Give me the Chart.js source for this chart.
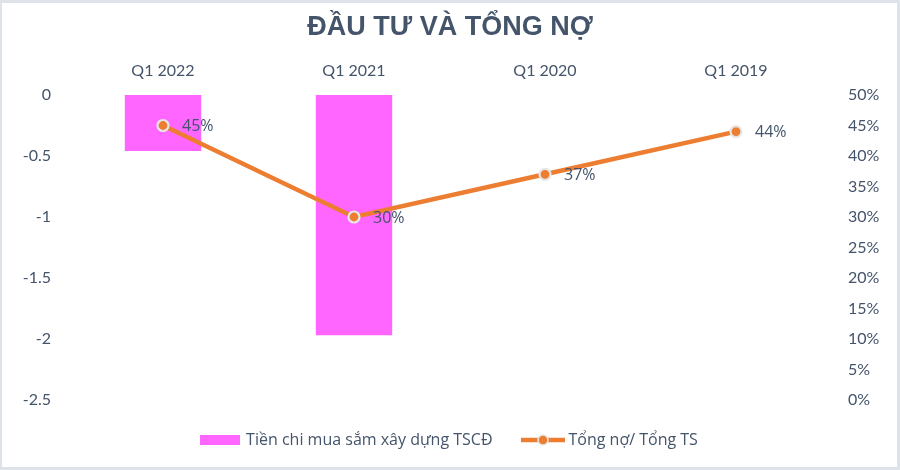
<!DOCTYPE html>
<html lang="vi">
<head>
<meta charset="utf-8">
<title>Đầu tư và tổng nợ</title>
<script src="https://cdn.jsdelivr.net/npm/chart.js@4.4.1/dist/chart.umd.min.js"></script>
<style>
  html, body { margin: 0; padding: 0; background: #ffffff; }
  #wrap { position: relative; width: 900px; height: 470px; }
</style>
</head>
<body>
<div id="wrap"><canvas id="chart"></canvas></div>
<script>
// Quarterly data
const quarters = ['Q1 2022', 'Q1 2021', 'Q1 2020', 'Q1 2019'];
const capexValues = [-0.46, -1.97, 0, 0];          // Tiền chi mua sắm xây dựng TSCĐ
const debtRatioPct = [45, 30, 37, 44];              // Tổng nợ / Tổng TS, in %
const leftTickValues = [0, -0.5, -1, -1.5, -2, -2.5];
const rightTickValues = [0, 5, 10, 15, 20, 25, 30, 35, 40, 45, 50];

const TEXT = '#44546A';
const PINK = '#FF66FF';
const ORANGE = '#ED7D31';
const MARKER_RING = '#E6E6E6';

// Legend swatches
function barSwatch() {
  const c = document.createElement('canvas');
  c.width = 40; c.height = 10;
  const g = c.getContext('2d');
  g.fillStyle = PINK;
  g.fillRect(0, 0, 40, 10);
  return c;
}
function lineSwatch() {
  const c = document.createElement('canvas');
  c.width = 45; c.height = 14;
  const g = c.getContext('2d');
  g.strokeStyle = ORANGE;
  g.lineWidth = 4.5;
  g.beginPath(); g.moveTo(1, 7); g.lineTo(45, 7); g.stroke();
  g.beginPath(); g.arc(23, 7, 5, 0, Math.PI * 2);
  g.fillStyle = ORANGE; g.fill();
  g.lineWidth = 1.5; g.strokeStyle = MARKER_RING; g.stroke();
  return c;
}

// White page with a light frame
const framePlugin = {
  id: 'frame',
  beforeDraw(chart) {
    const { ctx, width, height } = chart;
    ctx.save();
    ctx.fillStyle = '#ffffff';
    ctx.fillRect(0, 0, width, height);
    ctx.restore();
  },
  afterDraw(chart) {
    const { ctx, width, height } = chart;
    ctx.save();
    ctx.fillStyle = '#DEE3E9';
    ctx.fillRect(0, 0, width, 3);
    ctx.fillRect(0, height - 3, width, 3);
    ctx.fillRect(0, 0, 2, height);
    ctx.fillRect(width - 3, 0, 3, height);
    ctx.restore();
  }
};

// Percent labels beside each line point
const pointLabels = {
  id: 'pointLabels',
  afterDatasetsDraw(chart) {
    const meta = chart.getDatasetMeta(1);
    const { ctx } = chart;
    ctx.save();
    ctx.font = '16px "Open Sans"';
    ctx.fillStyle = TEXT;
    ctx.textAlign = 'left';
    ctx.textBaseline = 'middle';
    meta.data.forEach((pt, i) => {
      ctx.fillText(debtRatioPct[i] + '%', pt.x + 19, pt.y + 1);
    });
    ctx.restore();
  }
};

new Chart(document.getElementById('chart'), {
  data: {
    labels: quarters,
    datasets: [
      {
        type: 'bar',
        label: 'Tiền chi mua sắm xây dựng TSCĐ',
        data: capexValues,
        backgroundColor: PINK,
        borderWidth: 0,
        yAxisID: 'yLeft',
        order: 2,
        categoryPercentage: 0.8,
        barPercentage: 0.5
      },
      {
        type: 'line',
        label: 'Tổng nợ/ Tổng TS',
        data: debtRatioPct,
        borderColor: ORANGE,
        borderWidth: 4.5,
        tension: 0,
        pointRadius: 5.5,
        pointBackgroundColor: ORANGE,
        pointBorderColor: MARKER_RING,
        pointBorderWidth: 2.2,
        yAxisID: 'yRight',
        order: 1
      }
    ]
  },
  options: {
    responsive: true,
    maintainAspectRatio: false,
    animation: false,
    layout: { padding: { top: 0, left: 0, right: 0, bottom: 12 } },
    plugins: {
      tooltip: { enabled: false },
      title: {
        display: true,
        text: 'ĐẦU TƯ VÀ TỔNG NỢ',
        color: TEXT,
        font: { family: '"Liberation Sans", Arial, sans-serif', size: 27, weight: 'bold' },
        padding: { top: 11, bottom: 0 }
      },
      legend: {
        position: 'bottom',
        labels: {
          usePointStyle: true,
          pointStyleWidth: 36,
          padding: 32,
          color: TEXT,
          font: { family: '"Open Sans", sans-serif', size: 16 },
          generateLabels: () => [
            { text: 'Tiền chi mua sắm xây dựng TSCĐ', pointStyle: barSwatch(), fillStyle: PINK, strokeStyle: PINK, lineWidth: 0, hidden: false, datasetIndex: 0, fontColor: TEXT },
            { text: 'Tổng nợ/ Tổng TS', pointStyle: lineSwatch(), fillStyle: ORANGE, strokeStyle: ORANGE, lineWidth: 0, hidden: false, datasetIndex: 1, fontColor: TEXT }
          ]
        }
      }
    },
    scales: {
      x: {
        position: 'top',
        offset: true,
        grid: { display: false, drawTicks: false },
        border: { display: false },
        ticks: { color: TEXT, font: { family: 'Lato, sans-serif', size: 16 }, padding: 14.4 },
        afterFit(scale) { scale.height = 51.6; }
      },
      yLeft: {
        position: 'left',
        min: -2.5,
        max: 0,
        grid: { display: false, drawTicks: false },
        border: { display: false },
        afterBuildTicks(scale) { scale.ticks = leftTickValues.map(v => ({ value: v })); },
        ticks: { color: TEXT, font: { family: 'Lato, sans-serif', size: 16 }, padding: 16.5,
                 callback: v => String(v) },
        afterFit(scale) { scale.width = 67.5; }
      },
      yRight: {
        position: 'right',
        min: 0,
        max: 50,
        grid: { display: false, drawTicks: false },
        border: { display: false },
        afterBuildTicks(scale) { scale.ticks = rightTickValues.map(v => ({ value: v })); },
        ticks: { color: TEXT, font: { family: 'Lato, sans-serif', size: 16 }, padding: 16.5,
                 callback: v => v + '%' },
        afterFit(scale) { scale.width = 68.5; }
      }
    }
  },
  plugins: [framePlugin, pointLabels]
});
</script>
</body>
</html>
